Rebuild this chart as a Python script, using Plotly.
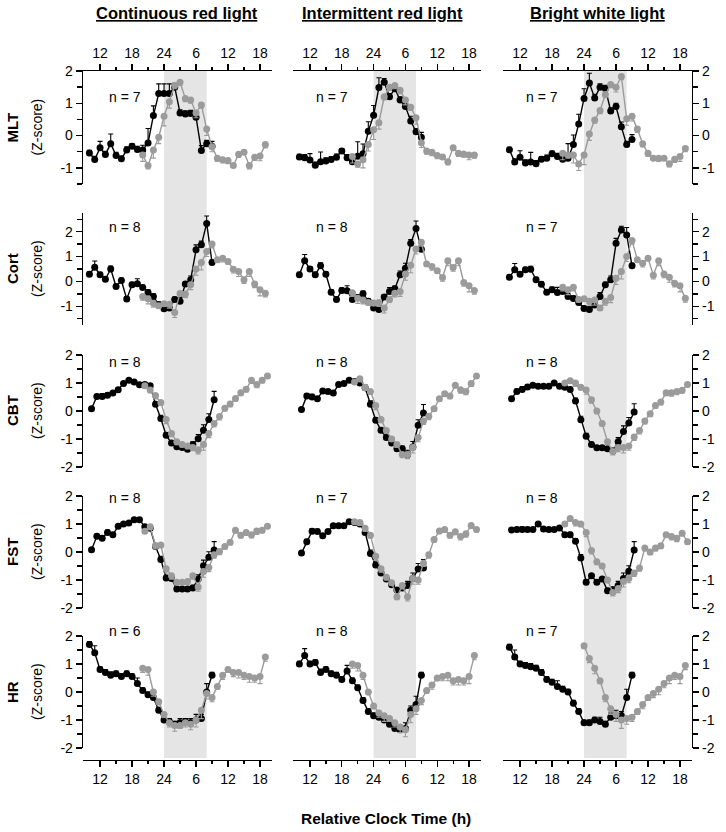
import plotly.graph_objects as go

# ---------------- data ----------------
HOURS_BLACK = [10, 11, 12, 13, 14, 15, 16, 17, 18, 19, 20, 21, 22, 23, 24, 25, 26, 27, 28, 29, 30, 31, 32, 33]
HOURS_GRAY = [20, 21, 22, 23, 24, 25, 26, 27, 28, 29, 30, 31, 32, 33, 34, 35, 36, 37, 38, 39, 40, 41, 42, 43]
HOUR_SHIFT = {"MLT": 0.0, "Cort": 0.0, "CBT": 0.4, "FST": 0.4, "HR": 0.0}

TICK_VALS_X = [12, 18, 24, 30, 36, 42]
TICK_TEXT_X = ["12", "18", "24", "6", "12", "18"]
MINOR_X = [15, 21, 27, 33, 39]

CONDITIONS = ["Continuous red light", "Intermittent red light", "Bright white light"]
VARIABLES = ["MLT", "Cort", "CBT", "FST", "HR"]
N_LABELS = [["n = 7", "n = 7", "n = 7"],
            ["n = 8", "n = 8", "n = 7"],
            ["n = 8", "n = 8", "n = 8"],
            ["n = 8", "n = 7", "n = 8"],
            ["n = 6", "n = 8", "n = 7"]]

# MLT
mlt_crl_black = [-0.54, -0.74, -0.38, -0.59, -0.25, -0.62, -0.72, -0.45, -0.33, -0.43, -0.45, -0.23, 0.62, 1.3, 1.3, 1.3, 1.5, 0.7, 0.67, 0.68, 0.57, -0.46, -0.25, -0.33]
mlt_crl_gray = [-0.6, -0.93, -0.45, -0.05, 0.6, 1.05, 1.55, 1.65, 1.15, 1.1, 0.7, 0.95, 0.2, -0.35, -0.7, -0.75, -0.77, -0.93, -0.58, -0.52, -0.93, -0.67, -0.63, -0.28]
mlt_irl_black = [-0.66, -0.69, -0.76, -0.92, -0.81, -0.79, -0.74, -0.67, -0.48, -0.69, -0.81, -0.64, -0.56, 0.13, 0.63, 1.49, 1.65, 1.2, 1.45, 1.1, 0.9, 0.45, 0.12, -0.05]
mlt_irl_gray = [-0.65, -0.88, -0.75, -0.28, 0.18, 0.4, 1.2, 1.5, 1.55, 1.4, 1.1, 0.88, 0.55, -0.22, -0.48, -0.52, -0.62, -0.66, -0.81, -0.38, -0.55, -0.57, -0.6, -0.6]
mlt_bwl_black = [-0.44, -0.82, -0.67, -0.85, -0.82, -0.87, -0.73, -0.70, -0.56, -0.65, -0.73, -0.70, -0.28, 0.36, 1.15, 1.63, 1.16, 1.5, 1.46, 0.76, 0.9, 0.27, -0.28, -0.12]
mlt_bwl_gray = [-0.55, -0.6, -0.6, -0.88, -0.6, 0.05, 0.48, 0.78, 1.27, 1.58, 1.5, 1.83, 0.52, 0.6, 0.2, -0.25, -0.55, -0.7, -0.7, -0.7, -0.87, -0.73, -0.65, -0.4]
# Cort
cort_crl_black = [0.29, 0.57, 0.27, 0.09, 0.5, -0.2, 0.04, -0.71, -0.13, -0.09, -0.24, -0.44, -0.6, -0.93, -1.1, -1.07, -0.73, -0.8, -0.1, 0.07, 1.27, 1.47, 2.33, 0.76]
cort_crl_gray = [-0.6, -0.7, -0.88, -0.98, -0.9, -0.92, -1.25, -0.48, -0.5, -0.13, 0.5, 0.76, 1.2, 1.5, 0.87, 0.93, 0.8, 0.49, 0.4, 0.07, 0.4, -0.1, -0.33, -0.47]
cort_irl_black = [0.27, 0.83, 0.5, 0.27, 0.63, 0.29, -0.43, -0.73, -0.36, -0.37, -0.73, -0.65, -0.49, -0.8, -1.07, -1.13, -0.63, -0.4, -0.29, 0.27, 0.53, 1.53, 2.13, 1.29]
cort_irl_gray = [-0.45, -0.68, -0.75, -0.85, -0.87, -0.85, -1.07, -0.73, -0.47, -0.4, 0.3, 0.65, 1.3, 1.57, 0.7, 0.6, 0.43, 0.16, 0.83, 0.56, 0.83, -0.04, -0.17, -0.36]
cort_bwl_black = [0.17, 0.47, 0.29, 0.47, 0.49, 0.07, -0.11, -0.43, -0.33, -0.44, -0.4, -0.6, -0.69, -0.85, -1.09, -1.13, -0.95, -0.6, -0.13, 0.07, 1.53, 2.07, 1.87, 0.63]
cort_bwl_gray = [-0.23, -0.33, -0.23, -0.73, -0.7, -0.8, -0.75, -1.07, -0.8, -0.65, 0.13, 0.4, 1.0, 1.65, 0.87, 0.73, 0.93, 0.25, 0.83, 0.3, 0.17, -0.07, -0.17, -0.68]
# CBT
cbt_crl_black = [0.08, 0.52, 0.52, 0.56, 0.64, 0.76, 0.98, 1.1, 1.04, 0.94, 0.95, 0.9, 0.24, -0.27, -0.87, -1.14, -1.28, -1.3, -1.37, -1.2, -0.99, -0.69, -0.3, 0.4]
cbt_crl_gray = [0.9, 0.75, 0.55, 0.3, -0.3, -0.8, -1.1, -1.2, -1.25, -1.3, -1.38, -1.2, -0.8, -0.45, -0.2, 0.1, 0.25, 0.45, 0.65, 0.78, 1.1, 0.95, 1.1, 1.25]
cbt_irl_black = [0.05, 0.54, 0.5, 0.44, 0.71, 0.7, 0.64, 0.95, 0.98, 1.1, 1.05, 1.0, 0.83, 0.24, -0.33, -0.69, -0.95, -1.14, -1.35, -1.35, -1.55, -1.29, -0.51, -0.07]
cbt_irl_gray = [1.04, 1.15, 0.85, 0.7, 0.2, -0.3, -0.7, -1.0, -1.2, -1.55, -1.55, -1.3, -0.95, -0.36, -0.19, 0.08, 0.44, 0.62, 0.54, 0.92, 0.76, 0.7, 0.98, 1.25]
cbt_bwl_black = [0.44, 0.7, 0.77, 0.86, 0.92, 0.88, 0.88, 0.88, 1.0, 0.88, 0.85, 0.77, 0.36, -0.31, -0.9, -1.2, -1.31, -1.31, -1.35, -1.43, -1.1, -0.73, -0.43, -0.04]
cbt_bwl_gray = [1.0, 1.08, 1.0, 0.85, 0.75, 0.4, 0.0, -0.45, -1.1, -1.45, -1.3, -1.3, -1.25, -0.93, -0.7, -0.36, -0.1, 0.2, 0.32, 0.65, 0.65, 0.7, 0.74, 0.95]
# FST
fst_crl_black = [0.08, 0.56, 0.49, 0.7, 0.62, 0.92, 1.0, 1.04, 1.15, 1.15, 0.9, 0.85, 0.2, -0.27, -0.93, -0.95, -1.32, -1.32, -1.32, -1.29, -0.96, -0.49, -0.19, 0.07]
fst_crl_gray = [0.74, 0.9, 0.23, 0.25, -0.6, -0.85, -1.08, -1.08, -1.05, -0.85, -1.25, -0.7, -0.55, -0.1, 0.02, 0.2, 0.35, 0.78, 0.6, 0.7, 0.62, 0.75, 0.78, 0.92]
fst_irl_black = [-0.04, 0.37, 0.74, 0.73, 0.58, 0.73, 0.94, 0.94, 0.94, 1.08, 1.05, 1.0, 0.7, -0.05, -0.46, -0.75, -0.96, -1.17, -1.36, -1.29, -1.2, -0.95, -0.61, -0.57]
fst_irl_gray = [1.08, 1.05, 0.85, 0.6, -0.15, -0.6, -0.9, -1.1, -1.6, -1.2, -1.6, -0.95, -1.0, -0.4, -0.1, 0.45, 0.75, 0.8, 0.6, 0.72, 0.55, 0.65, 0.95, 0.8]
fst_bwl_black = [0.79, 0.8, 0.8, 0.8, 0.8, 1.0, 0.82, 0.8, 0.8, 0.86, 0.62, 0.62, 0.38, -0.21, -1.08, -0.85, -1.08, -0.96, -1.38, -1.35, -1.2, -0.95, -0.69, 0.07]
fst_bwl_gray = [1.0, 1.2, 1.05, 1.0, 0.7, 0.05, -0.35, -0.5, -1.0, -1.45, -1.3, -1.05, -0.95, -0.75, -0.57, 0.14, 0.0, 0.14, 0.22, 0.62, 0.55, 0.49, 0.67, 0.37]
# HR
hr_crl_black = [1.7, 1.4, 0.8, 0.7, 0.6, 0.65, 0.55, 0.65, 0.55, 0.3, 0.05, -0.1, -0.2, -0.65, -1.0, -1.05, -1.15, -1.1, -1.05, -1.1, -1.0, -0.95, 0.0, 0.6]
hr_crl_gray = [0.85, 0.8, 0.0, -0.35, -0.8, -1.1, -1.2, -1.2, -1.1, -1.15, -1.0, -0.65, -0.05, -0.2, 0.2, 0.6, 0.8, 0.7, 0.7, 0.6, 0.55, 0.5, 0.55, 1.25]
hr_irl_black = [1.0, 1.3, 1.0, 1.05, 0.7, 0.8, 0.65, 0.6, 0.45, 0.75, 0.4, 0.15, -0.3, -0.7, -0.85, -0.9, -1.0, -1.15, -1.3, -1.35, -1.3, -0.65, -0.45, 0.6]
hr_irl_gray = [1.0, 0.95, 0.6, 0.0, -0.5, -0.75, -0.85, -0.95, -1.1, -1.25, -1.35, -0.8, -0.6, -0.3, 0.05, 0.25, 0.5, 0.55, 0.6, 0.4, 0.45, 0.4, 0.55, 1.3]
hr_bwl_black = [1.6, 1.25, 1.0, 0.95, 0.9, 0.85, 0.7, 0.45, 0.35, 0.2, 0.1, 0.0, -0.4, -0.7, -1.1, -1.1, -1.0, -1.05, -1.15, -0.9, -0.85, -0.85, -0.2, 0.6]
hr_bwl_gray = [None, None, None, None, 1.65, 1.2, 0.85, 0.4, -0.2, -0.6, -0.8, -1.0, -0.95, -0.9, -0.7, -0.45, -0.2, -0.05, 0.1, 0.3, 0.5, 0.6, 0.55, 0.95]

# standard errors (black drawn upward, gray drawn downward)
err_black_a = [0.08, 0.1, 0.2, 0.1, 0.3, 0.1, 0.08, 0.1, 0.08, 0.1, 0.15, 0.45, 0.3, 0.3, 0.3, 0.3, 0.12, 0.1, 0.1, 0.1, 0.1, 0.15, 0.1, 0.15]
err_gray_a = [0.2, 0.1, 0.25, 0.2, 0.3, 0.2, 0.1, 0.1, 0.1, 0.1, 0.15, 0.1, 0.2, 0.15, 0.1, 0.1, 0.1, 0.05, 0.1, 0.05, 0.1, 0.1, 0.15, 0.1]
err_black_b = [0.1, 0.25, 0.1, 0.1, 0.12, 0.1, 0.1, 0.1, 0.1, 0.2, 0.1, 0.1, 0.1, 0.1, 0.1, 0.1, 0.1, 0.15, 0.1, 0.15, 0.2, 0.15, 0.3, 0.1]
err_gray_b = [0.15, 0.2, 0.15, 0.1, 0.1, 0.15, 0.2, 0.1, 0.15, 0.2, 0.25, 0.3, 0.2, 0.15, 0.1, 0.15, 0.1, 0.15, 0.2, 0.15, 0.2, 0.15, 0.25, 0.15]
err_black_c = [0.05, 0.08, 0.1, 0.08, 0.06, 0.06, 0.05, 0.05, 0.05, 0.05, 0.06, 0.08, 0.1, 0.12, 0.1, 0.08, 0.08, 0.06, 0.08, 0.1, 0.15, 0.2, 0.2, 0.3]
err_gray_c = [0.08, 0.1, 0.12, 0.1, 0.15, 0.12, 0.1, 0.08, 0.1, 0.12, 0.15, 0.2, 0.15, 0.12, 0.12, 0.1, 0.1, 0.1, 0.1, 0.1, 0.12, 0.12, 0.1, 0.08]

# ---------------- layout geometry (pixels) ----------------
W, H = 726, 832
COL_PX = [(83, 272), (293, 481), (503, 692)]
ROW_PX = [(71, 184), (213, 325), (355, 467), (496, 608), (636, 748)]
BOTTOM_AXIS_PX = 760
X_RANGE = [8.8, 44.25]
Y_RANGES = [[-1.5, 2.0], [-1.75, 2.75], [-2, 2], [-2, 2], [-2, 2]]
Y_TICKS = [[-1, 0, 1, 2], [-1, 0, 1, 2], [-2, -1, 0, 1, 2], [-2, -1, 0, 1, 2], [-2, -1, 0, 1, 2]]
Y_MINOR = [[-1.5, -0.5, 0.5, 1.5], [-1.5, -0.5, 0.5, 1.5, 2.5], [-1.5, -0.5, 0.5, 1.5],
           [-1.5, -0.5, 0.5, 1.5], [-1.5, -0.5, 0.5, 1.5]]
N_LABEL_X = [125, 332, 542]
N_LABEL_Y = [97, 227, 362, 498, 631]

BLACK = "#000000"
GRAY = "#9b9b9b"
SHADE = "#e5e5e5"
FONT = "Liberation Sans, Arial, Helvetica, sans-serif"


def fx(p):
    return p / W


def fy(p):
    return 1 - p / H


DATA = {
    ("MLT", 0): (mlt_crl_black, mlt_crl_gray), ("MLT", 1): (mlt_irl_black, mlt_irl_gray), ("MLT", 2): (mlt_bwl_black, mlt_bwl_gray),
    ("Cort", 0): (cort_crl_black, cort_crl_gray), ("Cort", 1): (cort_irl_black, cort_irl_gray), ("Cort", 2): (cort_bwl_black, cort_bwl_gray),
    ("CBT", 0): (cbt_crl_black, cbt_crl_gray), ("CBT", 1): (cbt_irl_black, cbt_irl_gray), ("CBT", 2): (cbt_bwl_black, cbt_bwl_gray),
    ("FST", 0): (fst_crl_black, fst_crl_gray), ("FST", 1): (fst_irl_black, fst_irl_gray), ("FST", 2): (fst_bwl_black, fst_bwl_gray),
    ("HR", 0): (hr_crl_black, hr_crl_gray), ("HR", 1): (hr_irl_black, hr_irl_gray), ("HR", 2): (hr_bwl_black, hr_bwl_gray),
}
ERR_SETS = [(err_black_a, err_gray_a), (err_black_b, err_gray_b), (err_black_c, err_gray_c),
            (err_black_c, err_gray_c), (err_black_b, err_gray_b)]

fig = go.Figure()
layout = dict(
    width=W, height=H, margin=dict(l=0, r=0, t=0, b=0, pad=0, autoexpand=False),
    paper_bgcolor="white", plot_bgcolor="rgba(0,0,0,0)",
    showlegend=False, font=dict(family=FONT, size=14, color="black"),
)
shapes = []
annotations = []


def note(text, px, py, size=14, angle=0):
    return dict(text=text, x=fx(px), y=fy(py), xref="paper", yref="paper",
                xanchor="center", yanchor="middle", textangle=angle, showarrow=False,
                font=dict(size=size, color="black", family=FONT))


for r, var in enumerate(VARIABLES):
    for c in range(3):
        k = r * 3 + c + 1
        xa = "x" if k == 1 else f"x{k}"
        ya = "y" if k == 1 else f"y{k}"
        black, gray = DATA[(var, c)]
        eb, eg = ERR_SETS[r]
        shift = HOUR_SHIFT[var]
        xb = [h + shift for h in HOURS_BLACK]
        xg = [h + shift for h in HOURS_GRAY]
        fig.add_trace(go.Scatter(
            x=xb, y=black, xaxis=xa, yaxis=ya, mode="lines+markers", cliponaxis=False,
            line=dict(color=BLACK, width=1.4), marker=dict(color=BLACK, size=7),
            error_y=dict(type="data", symmetric=False, array=eb, arrayminus=[0] * len(eb),
                         color=BLACK, thickness=1.1, width=2.5)))
        fig.add_trace(go.Scatter(
            x=xg, y=gray, xaxis=xa, yaxis=ya, mode="lines+markers", cliponaxis=False,
            line=dict(color=GRAY, width=1.4), marker=dict(color=GRAY, size=7),
            error_y=dict(type="data", symmetric=False, array=[0] * len(eg), arrayminus=eg,
                         color=GRAY, thickness=1.1, width=2.5)))

        x0, x1 = COL_PX[c]
        y0, y1 = ROW_PX[r]
        xkey = "xaxis" if k == 1 else f"xaxis{k}"
        ykey = "yaxis" if k == 1 else f"yaxis{k}"
        xax = dict(domain=[fx(x0), fx(x1)], range=X_RANGE, anchor=ya, showgrid=False,
                   zeroline=False, fixedrange=True, automargin=False)
        tick_common = dict(showline=True, linecolor="black", linewidth=1.3,
                           ticks="outside", ticklen=6, tickwidth=1.3, tickcolor="black",
                           tickvals=TICK_VALS_X, ticktext=TICK_TEXT_X,
                           tickfont=dict(size=14, color="black", family=FONT),
                           minor=dict(tickvals=MINOR_X, ticks="outside", ticklen=3,
                                      tickwidth=1.3, tickcolor="black", showgrid=False))
        if r == 0:
            xax.update(side="top", **tick_common)
        elif r == len(VARIABLES) - 1:
            xax.update(anchor="free", position=fy(BOTTOM_AXIS_PX), side="bottom", **tick_common)
        else:
            xax.update(visible=False)
        layout[xkey] = xax

        yax = dict(domain=[fy(y1), fy(y0)], range=Y_RANGES[r], anchor=xa, showgrid=False,
                   zeroline=False, fixedrange=True, automargin=False)
        if c == 1:
            yax.update(visible=False)
        else:
            yax.update(side="left" if c == 0 else "right", showline=True, linecolor="black",
                       linewidth=1.3, ticks="outside", ticklen=6, tickwidth=1.3, tickcolor="black",
                       tickvals=Y_TICKS[r], ticktext=[str(v) for v in Y_TICKS[r]],
                       tickfont=dict(size=14, color="black", family=FONT),
                       minor=dict(tickvals=Y_MINOR[r], ticks="outside", ticklen=5,
                                  tickwidth=1.3, tickcolor="black", showgrid=False))
        layout[ykey] = yax

        annotations.append(note(N_LABELS[r][c], N_LABEL_X[c], N_LABEL_Y[r]))

    yc = (ROW_PX[r][0] + ROW_PX[r][1]) / 2
    annotations.append(note(f"<b>{var}</b>", 12, yc, size=15, angle=-90))
    annotations.append(note("(Z-score)", 37, yc, size=14, angle=-90))

# night shading (24 h to 8 h) spanning the full column height
for c in range(3):
    xa = "x" if c == 0 else f"x{c + 1}"
    shapes.append(dict(type="rect", xref=xa, yref="paper", x0=24, x1=32,
                       y0=fy(BOTTOM_AXIS_PX - 2), y1=fy(ROW_PX[0][0]),
                       fillcolor=SHADE, line=dict(width=0), layer="below"))

TITLE_X = [177, 383, 597]
for c, cond in enumerate(CONDITIONS):
    annotations.append(note(f"<b><u>{cond}</u></b>", TITLE_X[c], 13, size=16.5))

annotations.append(note("<b>Relative Clock Time (h)</b>", 386, 818, size=15.5))

layout["shapes"] = shapes
layout["annotations"] = annotations
fig.update_layout(**layout)
fig.write_html(
    "out.html",
    config={"displayModeBar": False, "staticPlot": True},
    post_script="document.body.style.margin='0px';document.body.style.padding='0px';"
                "document.body.style.overflow='hidden';",
)
